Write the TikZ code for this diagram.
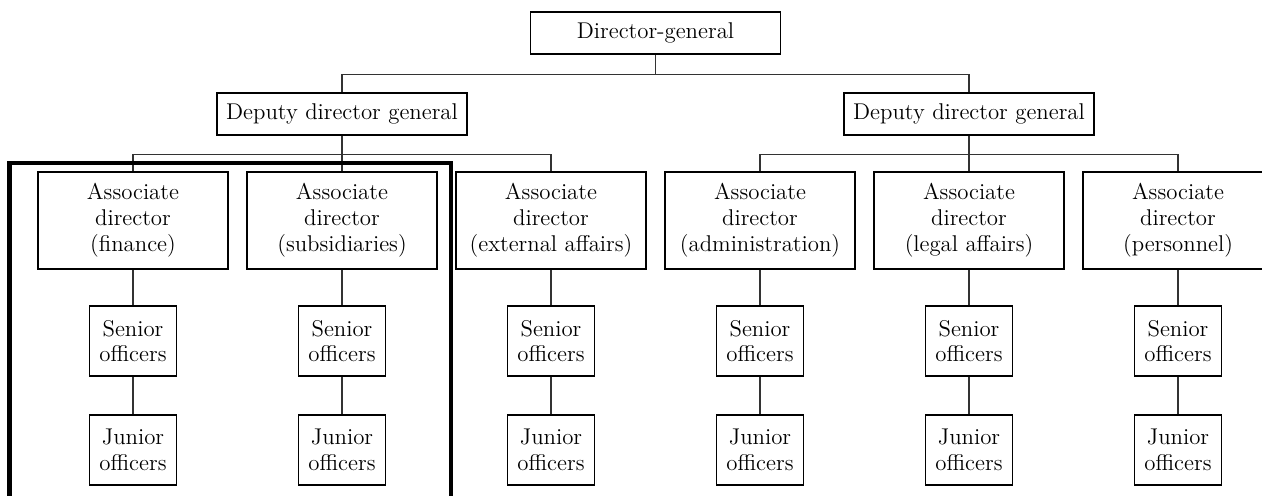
\documentclass[tikz,border=0pt]{standalone}
\usetikzlibrary{positioning,calc}
\tikzstyle{box} =
[
	draw,rectangle,line width=0.8pt,inner sep=3pt,align=center,
	font=\fontsize{11.4pt}{12.9pt}\selectfont
]
\tikzstyle{headbox} =
[
	box, minimum width=125pt, minimum height=21pt
]
\tikzstyle{assocbox} =
[
	box, minimum width=95pt, minimum height=48.5pt
]
\tikzstyle{officerbox} =
[
	box, minimum width=43.5pt, minimum height=35pt
]
\tikzstyle{link} = [draw=black!80,line width=0.6pt]

\begin{document}
\begin{tikzpicture}[node distance=18.5pt and 8.7pt,every edge/.style={link}]
\useasboundingbox (0,0) rectangle (631pt,-248pt);

\node[assocbox](A1) at (66.5pt,-110.25pt) {Associate\\director\\(finance)};
\node[assocbox](A2) [right=of A1] {Associate\\director\\(subsidiaries)};
\node[assocbox](A3) [right=of A2] {Associate\\director\\(external affairs)};
\node[assocbox](A4) [right=of A3] {Associate\\director\\(administration)};
\node[assocbox](A5) [right=of A4] {Associate\\director\\(legal affairs)};
\node[assocbox](A6) [right=of A5] {Associate\\director\\(personnel)};

\node[headbox](D1) [above=17.7pt of A2] {Deputy director general};
\node[headbox](D2) [above=17.7pt of A5] {Deputy director general};
\coordinate (M) at ($(D1.north)!0.5!(D2.north)$);
\node[headbox](DG) [above=18.7pt of M] {Director-general};

\node[officerbox](S1) [below=17.7pt of A1] {Senior\\officers};
\node[officerbox](S2) [below=17.7pt of A2] {Senior\\officers};
\node[officerbox](S3) [below=17.7pt of A3] {Senior\\officers};
\node[officerbox](S4) [below=17.7pt of A4] {Senior\\officers};
\node[officerbox](S5) [below=17.7pt of A5] {Senior\\officers};
\node[officerbox](S6) [below=17.7pt of A6] {Senior\\officers};

\node[officerbox](J1) [below=18.7pt of S1] {Junior\\officers};
\node[officerbox](J2) [below=18.7pt of S2] {Junior\\officers};
\node[officerbox](J3) [below=18.7pt of S3] {Junior\\officers};
\node[officerbox](J4) [below=18.7pt of S4] {Junior\\officers};
\node[officerbox](J5) [below=18.7pt of S5] {Junior\\officers};
\node[officerbox](J6) [below=18.7pt of S6] {Junior\\officers};
%
\draw[link] (DG.south) -- ++(0,-9.7pt) -| (D1.north);
\draw[link] (DG.south) -- ++(0,-9.7pt) -| (D2.north);
\draw[link] (D1.south) -- ++(0,-9.5pt) -| (A1.north);
\draw[link] (D1.south) -- ++(0,-9.5pt) -| (A3.north);
\draw[link] (D2.south) -- ++(0,-9.5pt) -| (A4.north);
\draw[link] (D2.south) -- ++(0,-9.5pt) -| (A6.north);

\path
	(D1) edge (A2)
	(D2) edge (A5);

\path
	(A1) edge (S1) (S1) edge (J1)
	(A2) edge (S2) (S2) edge (J2)
	(A3) edge (S3) (S3) edge (J3)
	(A4) edge (S4) (S4) edge (J4)
	(A5) edge (S5) (S5) edge (J5)
	(A6) edge (S6) (S6) edge (J6);

\draw[line width=2.3pt] ($(A1.north west)+(-14pt,4pt)$) rectangle ($(A2.east |- J2.south)+(6.5pt,-10pt)$);

\end{tikzpicture}
\end{document}
